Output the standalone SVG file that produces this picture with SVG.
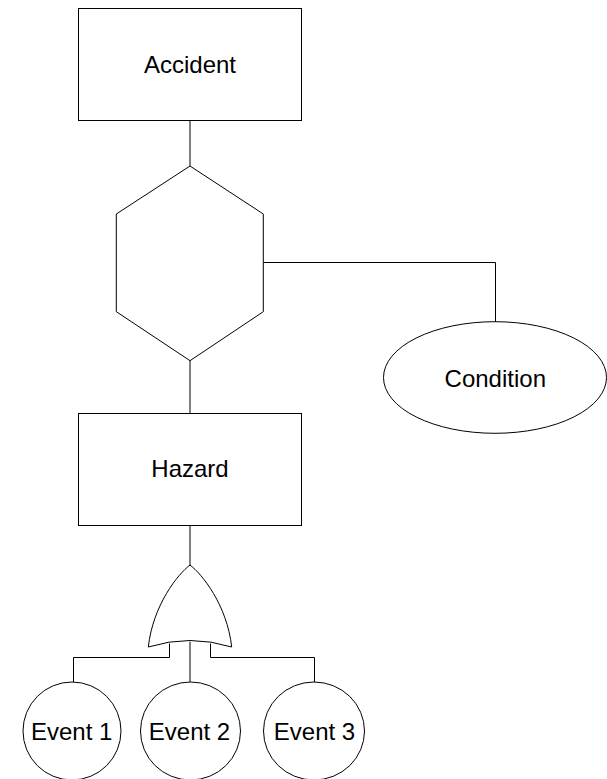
<svg xmlns="http://www.w3.org/2000/svg" width="607" height="779" viewBox="0 0 607 779">
  <style>
    .shape { fill: #ffffff; stroke: #000000; stroke-width: 1; }
    .conn { fill: none; stroke: #000000; stroke-width: 1; }
    .label { font-family: "Liberation Sans", Arial, sans-serif; font-size: 24px; fill: #000000; text-anchor: middle; }
  </style>
  <rect x="0" y="0" width="607" height="779" fill="#ffffff"/>
  <g id="connectors">
    <path class="conn" d="M190,120.5 V166"/>
    <path class="conn" d="M190,360.7 V413.5"/>
    <path class="conn" d="M263.3,262.5 H495.5 V322"/>
    <path class="conn" d="M190,525.5 V565"/>
    <path class="conn" d="M169.5,643.5 V657.5 H73.5 V682"/>
    <path class="conn" d="M190,641.7 V682"/>
    <path class="conn" d="M210.5,643.5 V657.5 H314.5 V682"/>
  </g>
  <g id="accident">
    <rect class="shape" x="78.5" y="8.5" width="223" height="112"/>
    <text class="label" x="190" y="73">Accident</text>
  </g>
  <g id="inhibit-gate">
    <polygon class="shape" points="190,166 263.3,214 263.3,311.7 190,360.7 116.3,311.7 116.3,214"/>
  </g>
  <g id="condition">
    <ellipse class="shape" cx="495" cy="377.5" rx="111.5" ry="55.8"/>
    <text class="label" x="495.3" y="387">Condition</text>
  </g>
  <g id="hazard">
    <rect class="shape" x="78.5" y="413.5" width="223" height="112"/>
    <text class="label" x="190" y="477">Hazard</text>
  </g>
  <g id="or-gate">
    <path class="shape" d="M190,565 C178,574 153,605 148.3,647 Q190,634 231.7,647 C227,605 202,574 190,565 Z"/>
  </g>
  <g id="event1">
    <ellipse class="shape" cx="72" cy="731" rx="49" ry="49"/>
    <text class="label" x="71.7" y="740">Event 1</text>
  </g>
  <g id="event2">
    <ellipse class="shape" cx="190.5" cy="731" rx="50" ry="49"/>
    <text class="label" x="189.5" y="740">Event 2</text>
  </g>
  <g id="event3">
    <ellipse class="shape" cx="314" cy="731" rx="50.5" ry="49"/>
    <text class="label" x="314.5" y="740">Event 3</text>
  </g>
</svg>
